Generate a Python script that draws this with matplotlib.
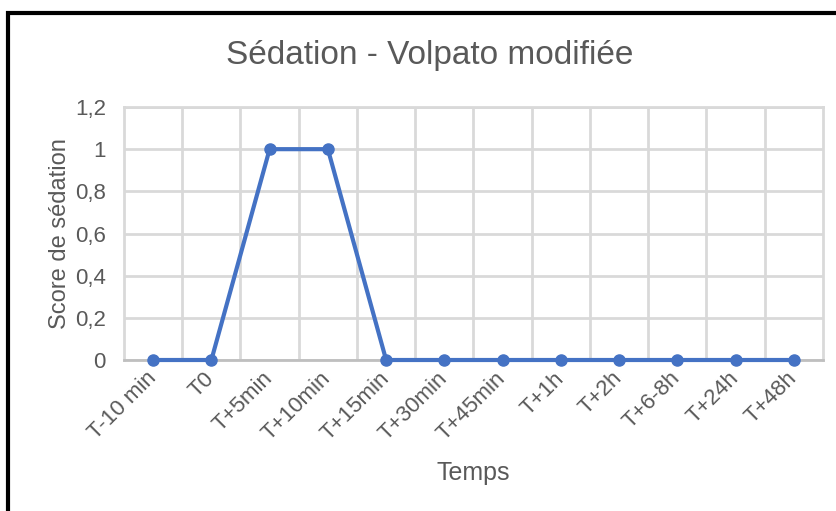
import matplotlib

matplotlib.use("Agg")
import matplotlib.pyplot as plt
from matplotlib.patches import Rectangle

plt.rcParams["font.family"] = ["Liberation Sans", "DejaVu Sans"]

categories = ["T-10 min", "T0", "T+5min", "T+10min", "T+15min", "T+30min",
              "T+45min", "T+1h", "T+2h", "T+6-8h", "T+24h", "T+48h"]
scores = [0, 0, 1, 1, 0, 0, 0, 0, 0, 0, 0, 0]
y_ticks = [0, 0.2, 0.4, 0.6, 0.8, 1.0, 1.2]
y_labels = ["0", "0,2", "0,4", "0,6", "0,8", "1", "1,2"]

W, H = 837, 511
fig = plt.figure(figsize=(W / 100, H / 100), dpi=100)
ax = fig.add_axes([124 / W, 1 - 360 / H, (823 - 124) / W, (360 - 107) / H])

TXT = "#595959"
GRID = "#d9d9d9"
BLUE = "#4472c4"

x = list(range(len(categories)))
ax.plot(x, scores, color=BLUE, lw=3, marker="o", ms=8, zorder=3, clip_on=False)

ax.set_xlim(-0.5, len(categories) - 0.5)
ax.set_ylim(0, 1.2)
ax.set_yticks(y_ticks)
ax.set_yticklabels(y_labels)
ax.set_xticks(x)
ax.set_xticklabels(categories, rotation=45, ha="right", va="center",
                   rotation_mode="anchor")
ax.set_xticks([i + 0.5 for i in x[:-1]], minor=True)

ax.grid(axis="y", color=GRID, lw=2)
ax.grid(axis="x", which="minor", color=GRID, lw=2)
ax.set_axisbelow(True)
ax.tick_params(which="both", length=0, colors=TXT, labelsize=16)
ax.tick_params(axis="y", pad=13)
ax.tick_params(axis="x", pad=11)
for s in ["top", "right", "left"]:
    ax.spines[s].set_color(GRID)
    ax.spines[s].set_linewidth(2)
ax.spines["bottom"].set_color("#bfbfbf")
ax.spines["bottom"].set_linewidth(2)

ax.set_ylabel("Score de sédation", fontsize=17, color=TXT, labelpad=3)
ax.set_xlabel("Temps", fontsize=18, color=TXT, labelpad=12)
fig.text(430 / W, 1 - 55 / H, "Sédation - Volpato modifiée", fontsize=24,
         color=TXT, ha="center", va="center")

# chart frame (cropped at right and bottom)
fig.patches.append(Rectangle((8 / W, -0.1), 1.2, 1 - 13 / H + 0.1, transform=fig.transFigure,
                             fill=False, edgecolor="black", lw=3))

fig.savefig("out.png", dpi=100)
